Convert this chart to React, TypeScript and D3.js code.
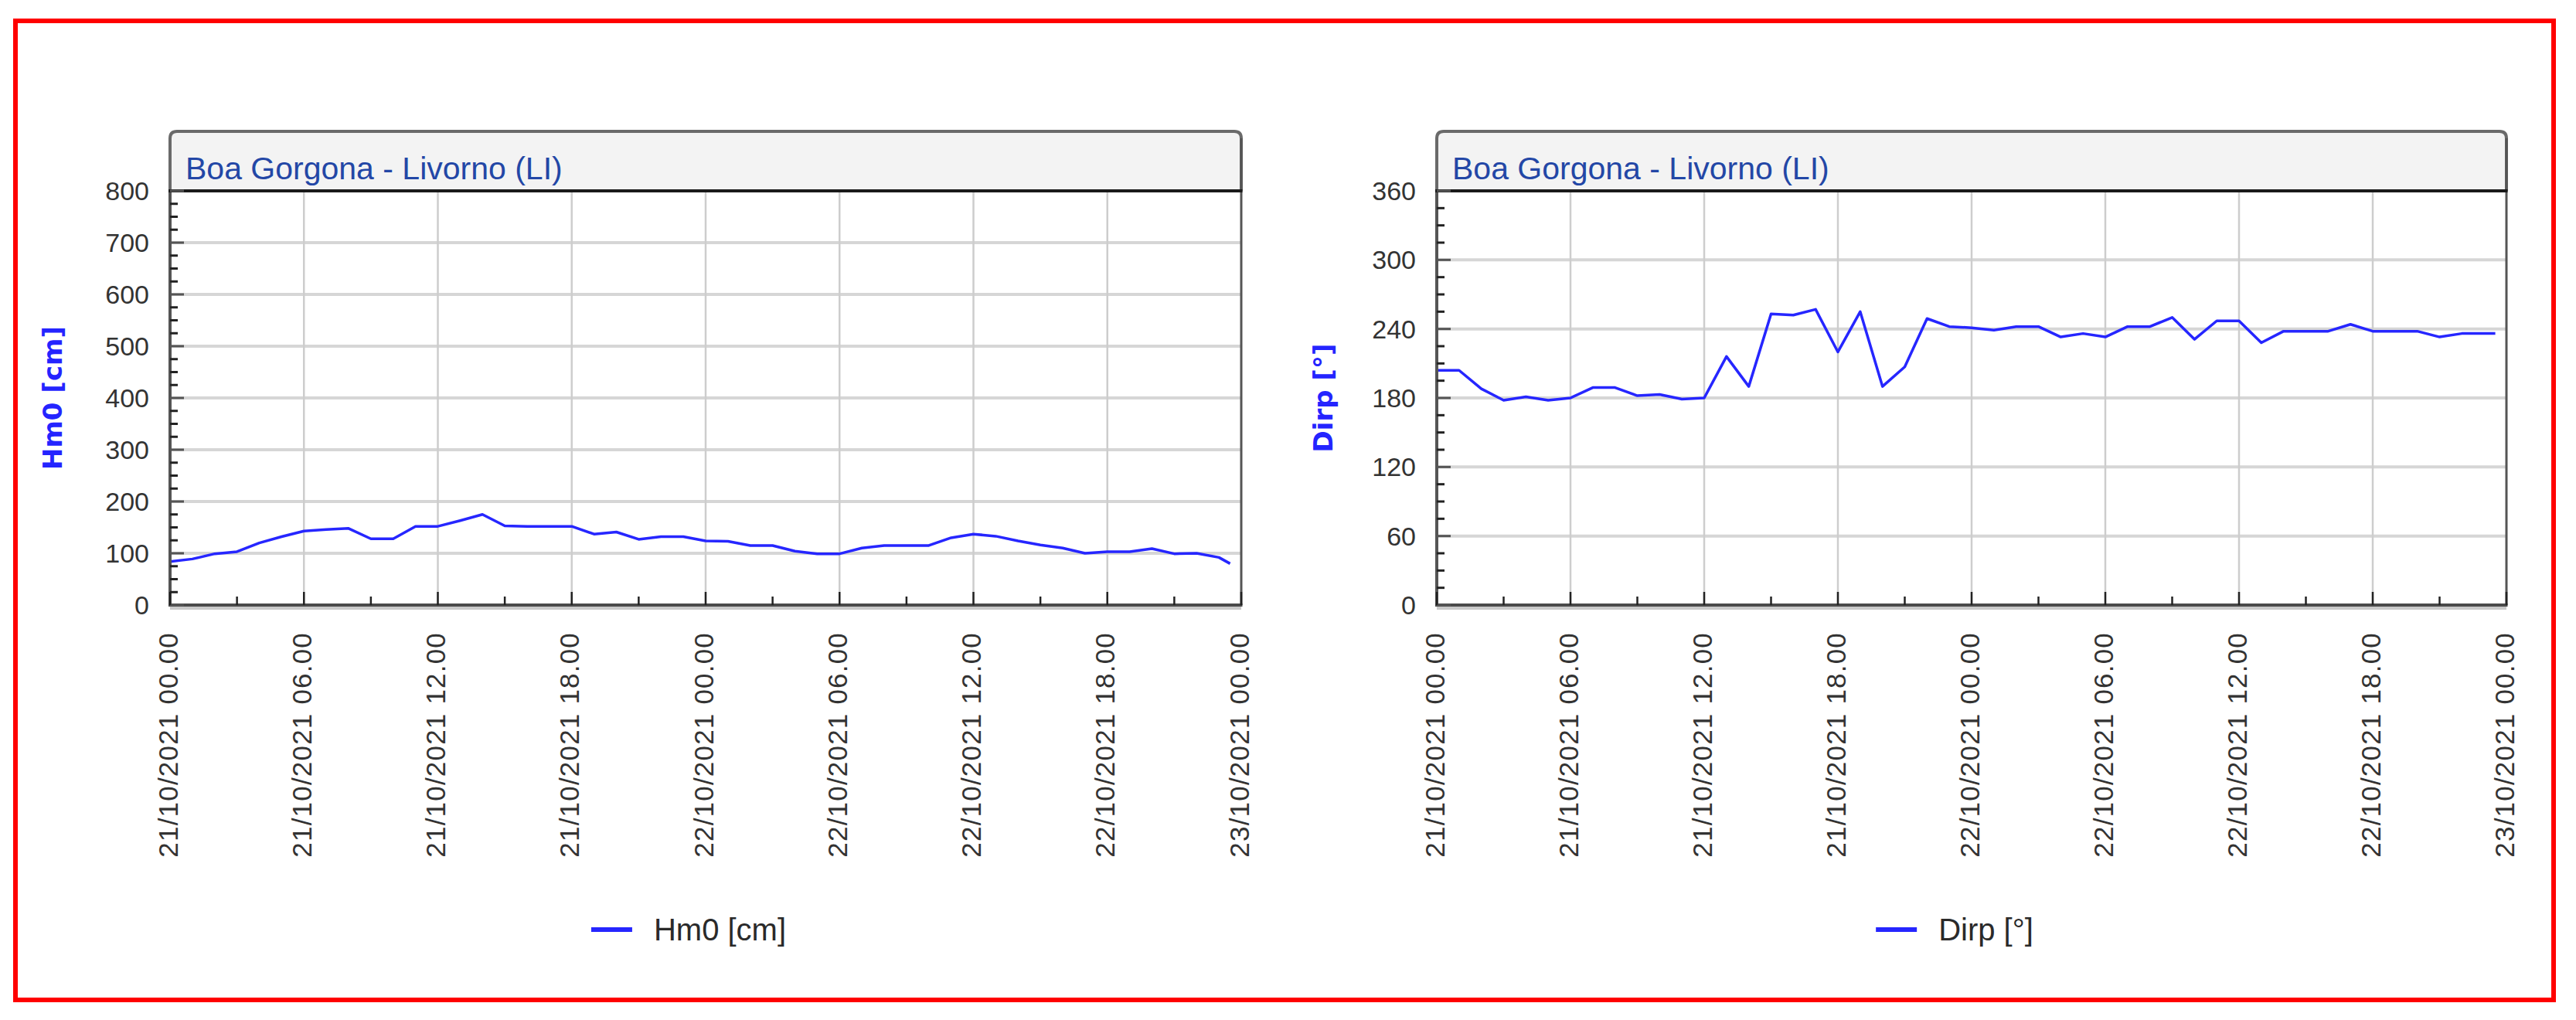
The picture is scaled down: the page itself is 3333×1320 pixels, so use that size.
import React from "react";
import * as d3 from "d3";

// ---------- data ----------
const stationTitle = "Boa Gorgona - Livorno (LI)";
const startIso = "2021-10-21T00:00:00Z";

// hours after 21/10/2021 00.00
const hours = [
  0, 1, 2, 3, 4, 5, 6, 7, 8, 9, 10, 11, 12, 13, 14, 15, 16, 17, 18, 19, 20, 21, 22, 23,
  24, 25, 26, 27, 28, 29, 30, 31, 32, 33, 34, 35, 36, 37, 38, 39, 40, 41, 42, 43, 44, 45, 46, 47, 47.5,
];

const hm0Values = [
  84, 89, 99, 103, 120, 132, 143, 146, 148, 128, 128, 152, 152, 163, 175, 153, 152, 152, 152, 137, 141, 127, 132, 132,
  124, 123, 115, 115, 104, 99, 99, 110, 115, 115, 115, 130, 137, 133, 124, 116, 110, 100, 103, 103, 109, 99, 100, 92, 80,
];

const dirpValues = [
  204, 204, 188, 178, 181, 178, 180, 189, 189, 182, 183, 179, 180, 216, 190, 253, 252, 257, 220, 255, 190, 207, 249, 242,
  241, 239, 242, 242, 233, 236, 233, 242, 242, 250, 231, 247, 247, 228, 238, 238, 238, 244, 238, 238, 238, 233, 236, 236, 236,
];

const xTickLabels = [
  "21/10/2021 00.00",
  "21/10/2021 06.00",
  "21/10/2021 12.00",
  "21/10/2021 18.00",
  "22/10/2021 00.00",
  "22/10/2021 06.00",
  "22/10/2021 12.00",
  "22/10/2021 18.00",
  "23/10/2021 00.00",
];

const hm0Ticks = [0, 100, 200, 300, 400, 500, 600, 700, 800];
const dirpTicks = [0, 60, 120, 180, 240, 300, 360];

// ---------- layout ----------
const W = 3333;
const H = 1320;
const PLOT_TOP = 247;
const PLOT_BOTTOM = 783;
const TITLE_TOP = 170;
const LINE_COLOR = "#2626ff";
const TEXT_FONT = "'Liberation Sans', Arial, sans-serif";

const parseLabel = d3.utcParse("%d/%m/%Y %H.%M");
const start = new Date(startIso);
const toDate = (h: number) => new Date(start.getTime() + h * 3600 * 1000);

function measure(text: string, font: string): number {
  const c = document.createElement("canvas");
  const ctx = c.getContext("2d");
  if (!ctx) return text.length * 20;
  ctx.font = font;
  return ctx.measureText(text).width;
}

type ChartProps = {
  x0: number;
  x1: number;
  yTitleX: number;
  yTitle: string;
  legendLabel: string;
  values: number[];
  yTicks: number[];
  minorStep: number;
};

function Chart({ x0, x1, yTitleX, yTitle, legendLabel, values, yTicks, minorStep }: ChartProps) {
  const xTickDates = xTickLabels.map((s) => parseLabel(s) as Date);
  const x = d3
    .scaleUtc()
    .domain([xTickDates[0], xTickDates[xTickDates.length - 1]])
    .range([x0, x1]);
  const yMax = yTicks[yTicks.length - 1];
  const y = d3.scaleLinear().domain([0, yMax]).range([PLOT_BOTTOM, PLOT_TOP]);

  const minorY = d3.range(0, yMax + 0.001, minorStep).filter((v) => !yTicks.includes(v));
  const minorX = d3.pairs(xTickDates).map(([a, b]) => new Date((a.getTime() + b.getTime()) / 2));

  const line = d3
    .line<number>()
    .x((_, i) => x(toDate(hours[i])))
    .y((v) => y(v));

  const r = 9;
  const titlePath = `M${x0},${PLOT_TOP} L${x0},${TITLE_TOP + r} Q${x0},${TITLE_TOP} ${x0 + r},${TITLE_TOP} L${x1 - r},${TITLE_TOP} Q${x1},${TITLE_TOP} ${x1},${TITLE_TOP + r} L${x1},${PLOT_TOP}`;

  const legendFont = `40px ${TEXT_FONT}`;
  const textW = measure(legendLabel, legendFont);
  const swatchW = 53;
  const gap = 28;
  const totalW = swatchW + gap + textW;
  const legendCx = (x0 + x1) / 2 - 22;
  const lx = legendCx - totalW / 2;
  const ly = 1203;

  return (
    <g>
      {/* title box */}
      <path d={titlePath + " Z"} fill="#f3f3f3" stroke="none" />
      <path d={titlePath} fill="none" stroke="#6a6a6a" strokeWidth={4} />
      <text
        x={x0 + 20}
        y={232}
        fontFamily={TEXT_FONT}
        fontSize={41}
        fill="#2347a6"
      >
        {stationTitle}
      </text>

      {/* plot background */}
      <rect x={x0} y={PLOT_TOP} width={x1 - x0} height={PLOT_BOTTOM - PLOT_TOP} fill="#ffffff" />

      {/* horizontal grid */}
      {yTicks
        .filter((v) => v !== 0 && v !== yMax)
        .map((v) => (
          <line key={"hg" + v} x1={x0} x2={x1} y1={y(v)} y2={y(v)} stroke="#d6d6d6" strokeWidth={4} />
        ))}
      {/* vertical grid */}
      {xTickDates.slice(1, -1).map((d, i) => (
        <line key={"vg" + i} x1={x(d)} x2={x(d)} y1={PLOT_TOP} y2={PLOT_BOTTOM} stroke="#cdcdcd" strokeWidth={2.5} />
      ))}

      {/* series line */}
      <path d={line(values) || ""} fill="none" stroke={LINE_COLOR} strokeWidth={3.5} strokeLinejoin="round" />

      {/* frame */}
      <line x1={x0} x2={x1} y1={PLOT_BOTTOM + 4} y2={PLOT_BOTTOM + 4} stroke="#c9c9c9" strokeWidth={4} />
      <line x1={x0} x2={x0} y1={PLOT_TOP} y2={PLOT_BOTTOM} stroke="#555555" strokeWidth={4} />
      <line x1={x1} x2={x1} y1={TITLE_TOP + r} y2={PLOT_BOTTOM} stroke="#555555" strokeWidth={3} />
      <line x1={x0 - 2} x2={x1 + 1.5} y1={PLOT_BOTTOM} y2={PLOT_BOTTOM} stroke="#4a4a4a" strokeWidth={4} />
      <line x1={x0 - 2} x2={x1 + 1.5} y1={PLOT_TOP} y2={PLOT_TOP} stroke="#1a1a1a" strokeWidth={4} />

      {/* y ticks */}
      {yTicks.map((v) => (
        <line key={"yt" + v} x1={x0} x2={x0 + 18} y1={y(v)} y2={y(v)} stroke="#555" strokeWidth={3} />
      ))}
      {minorY.map((v) => (
        <line key={"ym" + v} x1={x0} x2={x0 + 10} y1={y(v)} y2={y(v)} stroke="#222" strokeWidth={3} />
      ))}
      {/* x ticks */}
      {xTickDates.map((d, i) => (
        <line key={"xt" + i} x1={x(d)} x2={x(d)} y1={PLOT_BOTTOM} y2={PLOT_BOTTOM - 17} stroke="#222" strokeWidth={2.5} />
      ))}
      {minorX.map((d, i) => (
        <line key={"xm" + i} x1={x(d)} x2={x(d)} y1={PLOT_BOTTOM} y2={PLOT_BOTTOM - 11} stroke="#222" strokeWidth={2.5} />
      ))}

      {/* y labels */}
      {yTicks.map((v) => (
        <text
          key={"yl" + v}
          x={x0 - 27}
          y={y(v)}
          textAnchor="end"
          dominantBaseline="central"
          fontFamily={TEXT_FONT}
          fontSize={34}
          fill="#333"
        >
          {v}
        </text>
      ))}

      {/* x labels */}
      {xTickDates.map((d, i) => (
        <text
          key={"xl" + i}
          transform={`translate(${x(d) - 3},818) rotate(-90)`}
          textAnchor="end"
          dominantBaseline="central"
          fontFamily={TEXT_FONT}
          fontSize={35}
          letterSpacing={1.2}
          fill="#333"
        >
          {xTickLabels[i]}
        </text>
      ))}

      {/* y axis title */}
      <text
        transform={`translate(${yTitleX},${(PLOT_TOP + PLOT_BOTTOM) / 2}) rotate(-90)`}
        textAnchor="middle"
        dominantBaseline="central"
        fontFamily="'DejaVu Sans', Verdana, sans-serif"
        fontWeight="bold"
        fontSize={34}
        fill="#2424ff"
      >
        {yTitle}
      </text>

      {/* legend */}
      <rect x={lx} y={ly - 3} width={swatchW} height={6} fill={LINE_COLOR} />
      <text
        x={lx + swatchW + gap}
        y={ly}
        dominantBaseline="central"
        fontFamily={TEXT_FONT}
        fontSize={40}
        fill="#2a2a2a"
      >
        {legendLabel}
      </text>
    </g>
  );
}

export default function App() {
  return (
    <div style={{ width: W, height: H, overflow: "hidden" }}>
      <style>{"html,body{margin:0;padding:0;background:#fff;}"}</style>
      <svg width={W} height={H} viewBox={`0 0 ${W} ${H}`} style={{ display: "block" }}>
        <rect x={0} y={0} width={W} height={H} fill="#ffffff" />
        <rect x={20} y={27} width={3284} height={1267} fill="none" stroke="#ff0000" strokeWidth={6} />
        <Chart
          x0={220}
          x1={1606}
          yTitleX={68}
          yTitle="Hm0 [cm]"
          legendLabel="Hm0 [cm]"
          values={hm0Values}
          yTicks={hm0Ticks}
          minorStep={25}
        />
        <Chart
          x0={1859}
          x1={3243}
          yTitleX={1712}
          yTitle="Dirp [°]"
          legendLabel="Dirp [°]"
          values={dirpValues}
          yTicks={dirpTicks}
          minorStep={15}
        />
      </svg>
    </div>
  );
}
